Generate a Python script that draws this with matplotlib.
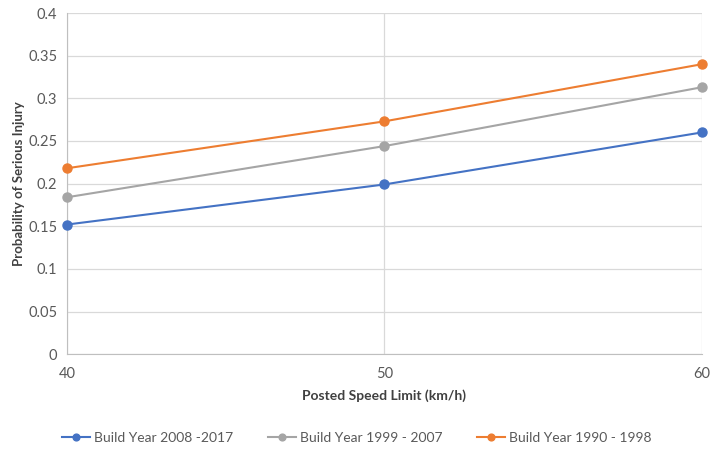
import numpy as np
import matplotlib.pyplot as plt

plt.rcParams['font.family'] = ['Lato', 'DejaVu Sans']

speed = [40, 50, 60]
build_labels = ['Build Year 2008 -2017', 'Build Year 1999 - 2007', 'Build Year 1990 - 1998']
p_2008 = [0.152, 0.199, 0.260]
p_1999 = [0.184, 0.244, 0.313]
p_1990 = [0.218, 0.273, 0.340]
colors = ['#4472C4', '#A5A5A5', '#ED7D31']

fig = plt.figure(figsize=(7.14, 4.5), dpi=100)
ax = fig.add_axes([0.094, 0.213, 0.889, 0.758])

for vals, col, lab in zip([p_2008, p_1999, p_1990], colors, build_labels):
    ax.plot(speed, vals, '-o', color=col, lw=1.5, markersize=6.5, label=lab,
            zorder=3, clip_on=False)

ax.set_xlim(40, 60)
ax.set_ylim(0, 0.4)
ax.set_xticks(speed)
ax.set_yticks(np.arange(0, 0.401, 0.05))
ax.set_yticklabels(['0', '0.05', '0.1', '0.15', '0.2', '0.25', '0.3', '0.35', '0.4'])
ax.grid(True, color='#D9D9D9', lw=0.9, zorder=0)
ax.set_axisbelow(True)
for s in ['top', 'right']:
    ax.spines[s].set_visible(False)
for s in ['left', 'bottom']:
    ax.spines[s].set_color('#BFBFBF')
ax.tick_params(length=0, colors='#595959', labelsize=10.5)
ax.tick_params(axis='x', pad=9)
ax.tick_params(axis='y', pad=7)

ax.set_xlabel('Posted Speed Limit (km/h)', fontsize=10, color='#404040',
              fontweight='bold', labelpad=6)
ax.set_ylabel('Probability of Serious Injury', fontsize=9.5, color='#404040',
              fontweight='bold', labelpad=2)

handles, labels = ax.get_legend_handles_labels()
fig.legend(handles, labels, loc='center', bbox_to_anchor=(0.5, 0.027), ncol=3,
           frameon=False, fontsize=10, labelcolor='#595959', handlelength=2.0,
           handletextpad=0.3, columnspacing=2.5, markerscale=0.75)

fig.savefig('out.png', dpi=100)
